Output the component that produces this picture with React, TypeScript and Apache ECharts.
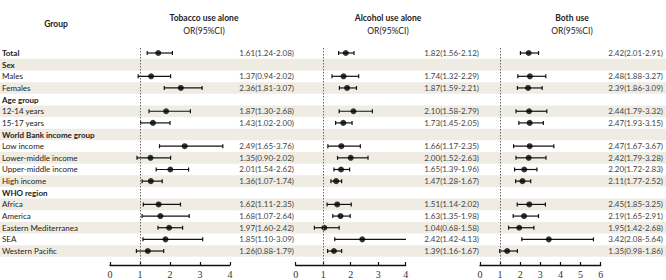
import React, { useEffect, useRef } from "react";
import * as echarts from "echarts";

// Row labels of the forest plot, top to bottom
const rowLabels = [
  "Total", "Sex", "Males", "Females", "Age group", "12-14 years", "15-17 years",
  "World Bank income group", "Low income", "Lower-middle income", "Upper-middle income", "High income",
  "WHO region", "Africa", "America", "Eastern Mediterranea", "SEA", "Western Pacific",
];
const boldRows = ["Total", "Sex", "Age group", "World Bank income group", "WHO region"];

// Odds ratios with 95% CI (null = section header row)
const tobaccoOR = [1.61, null, 1.37, 2.36, null, 1.87, 1.43, null, 2.49, 1.35, 2.01, 1.36, null, 1.62, 1.68, 1.97, 1.85, 1.26];
const tobaccoLo = [1.24, null, 0.94, 1.81, null, 1.30, 1.02, null, 1.65, 0.90, 1.54, 1.07, null, 1.11, 1.07, 1.60, 1.10, 0.88];
const tobaccoHi = [2.08, null, 2.02, 3.07, null, 2.68, 2.00, null, 3.76, 2.02, 2.62, 1.74, null, 2.35, 2.64, 2.42, 3.09, 1.79];

const alcoholOR = [1.82, null, 1.74, 1.87, null, 2.10, 1.73, null, 1.66, 2.00, 1.65, 1.47, null, 1.51, 1.63, 1.04, 2.42, 1.39];
const alcoholLo = [1.56, null, 1.32, 1.59, null, 1.58, 1.45, null, 1.17, 1.52, 1.39, 1.28, null, 1.14, 1.35, 0.68, 1.42, 1.16];
const alcoholHi = [2.12, null, 2.29, 2.21, null, 2.79, 2.05, null, 2.35, 2.63, 1.96, 1.67, null, 2.02, 1.98, 1.58, 4.13, 1.67];

const bothOR = [2.42, null, 2.48, 2.39, null, 2.44, 2.47, null, 2.47, 2.42, 2.20, 2.11, null, 2.45, 2.19, 1.95, 3.42, 1.35];
const bothLo = [2.01, null, 1.88, 1.86, null, 1.79, 1.93, null, 1.67, 1.79, 1.72, 1.77, null, 1.85, 1.65, 1.42, 2.08, 0.98];
const bothHi = [2.91, null, 3.27, 3.09, null, 3.32, 3.15, null, 3.67, 3.28, 2.83, 2.52, null, 3.25, 2.91, 2.68, 5.64, 1.86];

const panelTitles = ["Tobacco use alone", "Alcohol use alone", "Both use"];
const panelMax = [4, 4, 6];

const SANS = "Lato, 'Noto Sans', sans-serif";
const SERIF = "'Liberation Serif', 'DejaVu Serif', serif";

const fmt = (o: number, l: number, h: number) =>
  `${o.toFixed(2)}(${l.toFixed(2)}-${h.toFixed(2)})`;

export default function App() {
  const ref = useRef<HTMLDivElement>(null);

  useEffect(() => {
    document.body.style.margin = "0";
    if (!ref.current) return;
    const chart = echarts.init(ref.current, null, { renderer: "svg" });

    const yMin = -0.43;
    const yMax = 18.2;
    const top = 48;
    const bottom = 15;

    const panels = [
      { or: tobaccoOR, lo: tobaccoLo, hi: tobaccoHi, left: 110, width: 120, textRight: 294 },
      { or: alcoholOR, lo: alcoholLo, hi: alcoholHi, left: 295.7, width: 110, textRight: 479 },
      { or: bothOR, lo: bothLo, hi: bothHi, left: 480, width: 120.7, textRight: 663 },
    ];

    const grids: any[] = [{ left: 0, right: 0, top, bottom }];
    const xAxes: any[] = [{ gridIndex: 0, type: "value", min: 0, max: 1, show: false }];
    const yAxes: any[] = [{ gridIndex: 0, type: "value", min: yMin, max: yMax, inverse: true, show: false }];

    panels.forEach((p, k) => {
      grids.push({ left: p.left, width: p.width, top, bottom });
      xAxes.push({
        gridIndex: k + 1,
        type: "value",
        position: "bottom",
        min: 0,
        max: panelMax[k],
        interval: 1,
        axisLine: { show: true, onZero: false, lineStyle: { color: "#111", width: 1.3 } },
        axisTick: { show: true, inside: true, length: 3, lineStyle: { color: "#111", width: 1.2 } },
        axisLabel: { fontFamily: SERIF, fontSize: 10, color: "#333", margin: 4 },
        splitLine: { show: false },
      });
      yAxes.push({ gridIndex: k + 1, type: "value", min: yMin, max: yMax, inverse: true, show: false });
    });

    // Row bands, group labels and OR(95%CI) text, positioned through the full-width grid
    const rowSeries: any = {
      type: "custom",
      xAxisIndex: 0,
      yAxisIndex: 0,
      z: 0,
      silent: true,
      data: rowLabels.map((_, i) => [0, i]),
      renderItem: (params: any, api: any) => {
        const i = api.value(1);
        const cs = params.coordSys;
        const yc = api.coord([0, i])[1];
        const y0 = api.coord([0, i - 0.5])[1];
        const y1 = api.coord([0, i + 0.5])[1];
        const label = rowLabels[i];
        const bold = boldRows.includes(label);
        const children: any[] = [];
        if (i % 2 === 1) {
          children.push({
            type: "rect",
            shape: { x: cs.x, y: y0, width: cs.width, height: y1 - y0 },
            style: { fill: "#efece4" },
          });
        }
        children.push({
          type: "text",
          style: {
            text: label,
            x: 2,
            y: yc,
            align: "left",
            verticalAlign: "middle",
            fill: "#222",
            font: `${bold ? "bold " : ""}8px ${SANS}`,
          },
        });
        panels.forEach((p) => {
          const o = p.or[i];
          const l = p.lo[i];
          const h = p.hi[i];
          if (o == null || l == null || h == null) return;
          children.push({
            type: "text",
            style: {
              text: fmt(o, l, h),
              x: p.textRight,
              y: yc,
              align: "right",
              verticalAlign: "middle",
              fill: "#444",
              font: `8px ${SANS}`,
            },
          });
        });
        return { type: "group", children };
      },
    };

    const series: any[] = [rowSeries];

    panels.forEach((p, k) => {
      const ciData = rowLabels
        .map((_, i) => [p.lo[i], p.hi[i], i])
        .filter((d) => d[0] != null);
      const ptData = rowLabels
        .map((_, i) => [p.or[i], i])
        .filter((d) => d[0] != null);

      series.push({
        type: "custom",
        xAxisIndex: k + 1,
        yAxisIndex: k + 1,
        clip: true,
        z: 3,
        data: ciData,
        renderItem: (_params: any, api: any) => {
          const a = api.coord([api.value(0), api.value(2)]);
          const b = api.coord([api.value(1), api.value(2)]);
          const c = 2;
          const st = { stroke: "#111", lineWidth: 1.2 };
          return {
            type: "group",
            children: [
              { type: "line", shape: { x1: a[0], y1: a[1], x2: b[0], y2: b[1] }, style: st },
              { type: "line", shape: { x1: a[0], y1: a[1] - c, x2: a[0], y2: a[1] + c }, style: st },
              { type: "line", shape: { x1: b[0], y1: b[1] - c, x2: b[0], y2: b[1] + c }, style: st },
            ],
          };
        },
      });

      series.push({
        type: "scatter",
        xAxisIndex: k + 1,
        yAxisIndex: k + 1,
        symbol: "circle",
        symbolSize: 6,
        z: 4,
        itemStyle: { color: "#000" },
        data: ptData,
        markLine: {
          silent: true,
          symbol: "none",
          label: { show: false },
          lineStyle: { color: "#666", type: [1.5, 1.5], width: 1 },
          data: [{ xAxis: 1 }],
        },
      });
    });

    const headerText = (x: number, y: number, text: string, bold: boolean) => ({
      type: "text",
      x,
      y,
      style: {
        text,
        align: "center",
        verticalAlign: "middle",
        fill: "#222",
        font: `${bold ? "bold " : ""}8.5px ${SANS}`,
      },
    });

    const centers = [204, 388, 572];
    const graphic: any[] = [headerText(56, 24, "Group", true)];
    centers.forEach((cx, k) => {
      graphic.push(headerText(cx, 18, panelTitles[k], true));
      graphic.push(headerText(cx, 31, "OR(95%CI)", false));
    });

    chart.setOption({
      animation: false,
      backgroundColor: "#fff",
      grid: grids,
      xAxis: xAxes,
      yAxis: yAxes,
      series,
      graphic,
    });

    return () => chart.dispose();
  }, []);

  return <div ref={ref} style={{ width: 666, height: 280 }} />;
}
